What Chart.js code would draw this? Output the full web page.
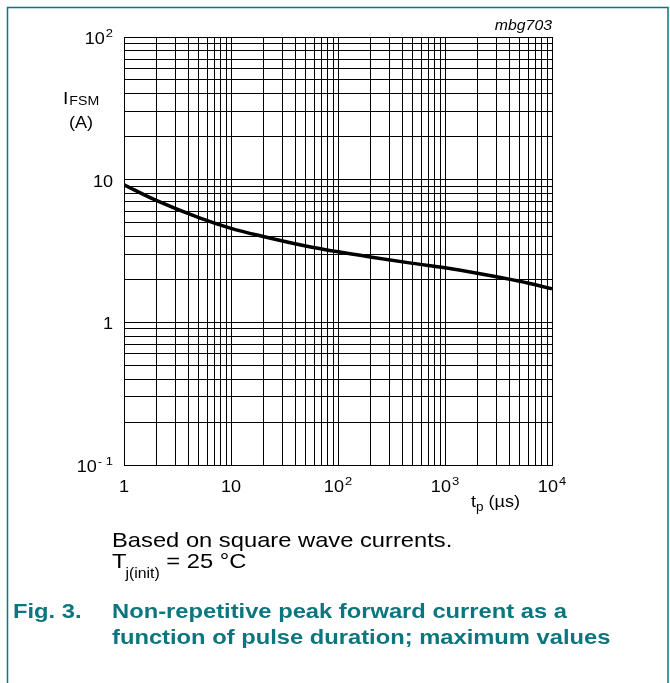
<!DOCTYPE html>
<html>
<head>
<meta charset="utf-8">
<script src="https://cdn.jsdelivr.net/npm/chart.js@4.4.1/dist/chart.umd.min.js"></script>
<style>
  html, body { margin: 0; padding: 0; background: #fff; }
  canvas { display: block; }
</style>
</head>
<body>
<canvas id="chart" width="670" height="683"></canvas>
<script>
// pulse duration tp (us)
const pulseTimes = [1, 2, 5, 10, 20, 50, 100, 200, 500, 1000, 2000, 5000, 10000];
// peak forward current IFSM (A)
const peakCurrent = [9.2, 7.15, 5.42, 4.56, 4.0, 3.43, 3.12, 2.87, 2.59, 2.41, 2.21, 1.94, 1.72];

// decades on each axis (grid has lines at 1..9 x decade)
const xDecades = [1, 10, 100, 1000];
const yDecades = [0.1, 1, 10];
const xMax = 10000;
const yMax = 100;

// tick labels: base + superscript
const xTickValues = [1, 10, 100, 1000, 10000];
const xTickBase = ["1", "10", "10", "10", "10"];
const xTickExp = ["", "", "2", "3", "4"];
const yTickValues = [0.1, 1, 10, 100];
const yTickBase = ["10", "1", "10", "10"];
const yTickExp = ["- 1", "", "", "2"];

const TEAL = "#0b767d";
const FONT = "'Liberation Sans', Arial, sans-serif";
const SX = 1.13; // text in the picture is a bit wider than Arial

// all minor/major grid values for a log axis
function gridValues(decades, max) {
  const out = [];
  decades.forEach(d => {
    for (let m = 1; m <= 9; m++) out.push(+(d * m).toPrecision(3));
  });
  out.push(max);
  return out;
}

// draw text with horizontal stretch, returns drawn width
function txt(ctx, s, x, y, font, color, sx) {
  sx = sx || SX;
  ctx.save();
  ctx.font = font;
  ctx.fillStyle = color || "#000";
  ctx.textAlign = "left";
  ctx.textBaseline = "alphabetic";
  const w = ctx.measureText(s).width * sx;
  ctx.translate(x, y);
  ctx.scale(sx, 1);
  ctx.fillText(s, 0, 0);
  ctx.restore();
  return w;
}

function width(ctx, s, font) {
  ctx.save();
  ctx.font = font;
  const w = ctx.measureText(s).width * SX;
  ctx.restore();
  return w;
}

// "10" with superscript, align = "right" | "center"
function powLabel(ctx, base, exp, x, y, align) {
  const fBase = "16px " + FONT;
  const fExp = "11.5px " + FONT;
  const wb = width(ctx, base, fBase);
  const we = exp ? width(ctx, exp, fExp) + 1 : 0;
  const total = wb + we;
  let x0 = align === "right" ? x - total : x - total / 2;
  txt(ctx, base, x0, y, fBase);
  if (exp) txt(ctx, exp, x0 + wb + 1, y - 7, fExp);
}

const textPlugin = {
  id: "texts",
  afterDraw(chart) {
    const ctx = chart.ctx;
    const xs = chart.scales.x;
    const ys = chart.scales.y;

    // frame of the figure box
    ctx.save();
    ctx.strokeStyle = TEAL;
    ctx.lineWidth = 1.5;
    ctx.beginPath();
    ctx.moveTo(7.5, 683);
    ctx.lineTo(7.5, 7.5);
    ctx.lineTo(668, 7.5);
    ctx.lineTo(668, 683);
    ctx.stroke();
    ctx.restore();

    // y tick labels
    yTickValues.forEach((v, i) => {
      powLabel(ctx, yTickBase[i], yTickExp[i], 113, ys.getPixelForValue(v) + 7, "right");
    });
    // x tick labels
    xTickValues.forEach((v, i) => {
      powLabel(ctx, xTickBase[i], xTickExp[i], xs.getPixelForValue(v), 492, "center");
    });

    // y axis title
    let w = txt(ctx, "I", 63, 104, "17px " + FONT);
    txt(ctx, "FSM", 63 + w + 1, 105, "12.5px " + FONT);
    txt(ctx, "(A)", 69, 128, "16px " + FONT);

    // x axis title
    w = txt(ctx, "t", 471, 507, "16px " + FONT);
    let w2 = txt(ctx, "p", 471 + w, 511, "12px " + FONT);
    txt(ctx, " (µs)", 471 + w + w2, 507, "16px " + FONT);

    // figure id
    const fId = "italic 14px " + FONT;
    txt(ctx, "mbg703", 552 - width(ctx, "mbg703", fId), 30, fId);

    // notes under the chart
    const fNote = "21px " + FONT;
    txt(ctx, "Based on square wave currents.", 112, 547, fNote);
    w = txt(ctx, "T", 112, 568, fNote);
    w2 = txt(ctx, "j(init)", 112 + w - 1, 578, "14px " + FONT);
    txt(ctx, " = 25 °C", 112 + w - 1 + w2, 568, fNote);

    // figure caption
    const fCap = "bold 21px " + FONT;
    txt(ctx, "Fig. 3.", 13, 618, fCap, TEAL);
    txt(ctx, "Non-repetitive peak forward current as a", 112, 618, fCap, TEAL);
    txt(ctx, "function of pulse duration; maximum values", 112, 644, fCap, TEAL);
  }
};

const ctx = document.getElementById("chart").getContext("2d");

new Chart(ctx, {
  type: "line",
  data: {
    datasets: [{
      data: pulseTimes.map((t, i) => ({ x: t, y: peakCurrent[i] })),
      borderColor: "#000",
      borderWidth: 3.5,
      pointRadius: 0,
      cubicInterpolationMode: "monotone",
      fill: false
    }]
  },
  options: {
    responsive: false,
    animation: false,
    devicePixelRatio: 1,
    layout: { padding: { left: 124, right: 118, top: 37, bottom: 218 } },
    plugins: {
      legend: { display: false },
      tooltip: { enabled: false }
    },
    scales: {
      x: {
        type: "logarithmic",
        min: 1,
        max: xMax,
        afterBuildTicks: s => { s.ticks = gridValues(xDecades, xMax).map(v => ({ value: v })); },
        ticks: { display: false },
        grid: { color: "#000", lineWidth: 1, drawTicks: false },
        border: { color: "#000", width: 1 }
      },
      y: {
        type: "logarithmic",
        min: 0.1,
        max: yMax,
        afterBuildTicks: s => { s.ticks = gridValues(yDecades, yMax).map(v => ({ value: v })); },
        ticks: { display: false },
        grid: { color: "#000", lineWidth: 1, drawTicks: false },
        border: { color: "#000", width: 1 }
      }
    }
  },
  plugins: [textPlugin]
});
</script>
</body>
</html>
